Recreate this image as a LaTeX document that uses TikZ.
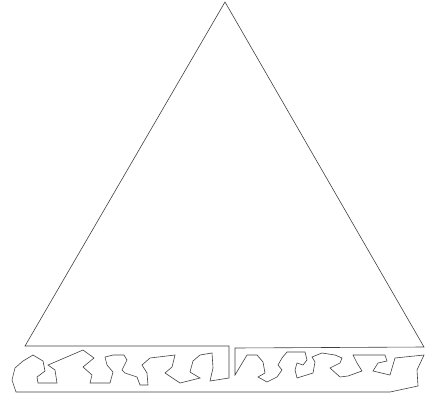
\documentclass[tikz,border=0pt]{standalone}
\usepackage{tikz}
\usetikzlibrary{
    calc
}
\tikzset{
    outline/.style={
        draw=black!75,
        line width=0.6pt,
        line join=miter
    }
}

\begin{document}
\begin{tikzpicture}[
    x=1pt,
    y=-1pt
]

\useasboundingbox (0,0) rectangle (425,396);

% triangle with its base cut open
\coordinate (apex) at (225,2);
\coordinate (baseleft) at (25,346);
\coordinate (basecut) at (229,346);
\coordinate (baseright) at (424,347);

\draw[outline]
    (apex) -- (baseleft) -- (basecut)
    % left ragged edge of the strip
    -- (229,378) -- (210,381) -- (213,368) -- (212,353) -- (200,355)
    -- (193,361) -- (190,372) -- (200,378) -- (180,383) -- (165,373)
    -- (172,367) -- (175,355) -- (150,358) -- (142,365) -- (147,373)
    -- (148,385) -- (140,385) -- (137,377) -- (125,373) -- (122,370)
    -- (127,360) -- (124,355) -- (113,355) -- (105,357) -- (107,365)
    -- (113,372) -- (110,383) -- (90,383) -- (92,375) -- (83,367)
    -- (94,358) -- (83,350) -- (48,365) -- (55,370)
    -- (57,383) -- (38,383) -- (37,377) -- (45,371) -- (43,361)
    -- (33,355) -- (23,361) -- (15,368) -- (12,380) -- (16,392)
    % bottom and right side
    -- (390,392) -- (418,386) -- (417,370) -- (424,355)
    % right ragged edge of the strip
    -- (395,358) -- (390,375) -- (373,371) -- (378,363) -- (387,361)
    -- (385,355) -- (368,355) -- (353,355) -- (357,363) -- (362,371)
    -- (348,376) -- (340,377) -- (330,368) -- (340,363) -- (342,358)
    -- (335,355) -- (322,353) -- (312,357) -- (315,362) -- (313,373)
    -- (297,378) -- (295,370) -- (297,363) -- (303,365) -- (307,360)
    -- (305,352) -- (287,352) -- (282,358) -- (278,365) -- (282,370)
    -- (277,377) -- (267,382) -- (258,377) -- (265,373) -- (263,362)
    -- (257,355) -- (247,355) -- (235,375) -- (235,348)
    -- (baseright) -- cycle;

\end{tikzpicture}
\end{document}
